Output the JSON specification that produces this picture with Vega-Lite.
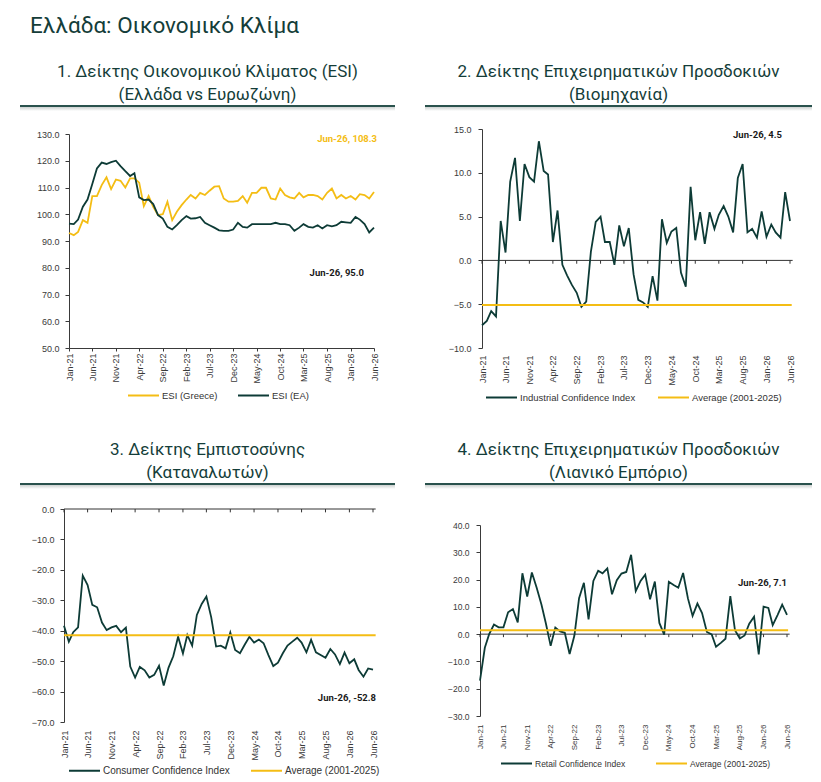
{
  "$schema": "https://vega.github.io/schema/vega-lite/v6.json",
  "background": "white",
  "padding": {"left": 20, "top": 14, "right": 0, "bottom": 0},
  "title": {"text": "Ελλάδα: Οικονομικό Κλίμα", "anchor": "start", "dx": 10, "fontSize": 22.5, "font": "Roboto", "fontWeight": "normal", "color": "#143d39", "offset": 26},
  "datasets": {
    "m": [
      {"d":"2021-01","gr":93.0,"ea":96.5,"ind":-7.4,"con":-38.4,"ret":-17.0},
      {"d":"2021-02","gr":92.2,"ea":96.3,"ind":-6.9,"con":-43.6,"ret":-5.0},
      {"d":"2021-03","gr":93.4,"ea":98.0,"ind":-5.8,"con":-40.5,"ret":0.0},
      {"d":"2021-04","gr":97.8,"ea":102.8,"ind":-6.4,"con":-38.9,"ret":3.5},
      {"d":"2021-05","gr":96.8,"ea":105.5,"ind":4.5,"con":-21.9,"ret":2.5},
      {"d":"2021-06","gr":106.8,"ea":111.3,"ind":0.9,"con":-25.0,"ret":2.5},
      {"d":"2021-07","gr":106.8,"ea":117.1,"ind":9.0,"con":-31.5,"ret":8.0},
      {"d":"2021-08","gr":110.9,"ea":119.3,"ind":11.7,"con":-32.3,"ret":9.2},
      {"d":"2021-09","gr":113.8,"ea":118.8,"ind":4.5,"con":-37.3,"ret":4.3},
      {"d":"2021-10","gr":109.4,"ea":119.5,"ind":11.0,"con":-39.8,"ret":22.3},
      {"d":"2021-11","gr":113.0,"ea":120.0,"ind":9.5,"con":-38.9,"ret":13.8},
      {"d":"2021-12","gr":112.5,"ea":118.0,"ind":9.0,"con":-38.4,"ret":22.6},
      {"d":"2022-01","gr":110.0,"ea":116.1,"ind":13.6,"con":-40.5,"ret":17.0},
      {"d":"2022-02","gr":113.4,"ea":114.3,"ind":10.2,"con":-39.0,"ret":10.8},
      {"d":"2022-03","gr":113.4,"ea":115.3,"ind":9.8,"con":-51.8,"ret":4.0},
      {"d":"2022-04","gr":111.8,"ea":106.3,"ind":2.1,"con":-55.4,"ret":-4.3},
      {"d":"2022-05","gr":103.0,"ea":105.3,"ind":5.7,"con":-51.9,"ret":2.4},
      {"d":"2022-06","gr":106.8,"ea":105.5,"ind":-0.5,"con":-53.0,"ret":1.0},
      {"d":"2022-07","gr":102.8,"ea":103.8,"ind":-1.7,"con":-55.4,"ret":0.5},
      {"d":"2022-08","gr":99.7,"ea":99.7,"ind":-2.8,"con":-54.5,"ret":-7.3},
      {"d":"2022-09","gr":100.0,"ea":98.4,"ind":-3.7,"con":-51.5,"ret":-0.5},
      {"d":"2022-10","gr":104.7,"ea":95.3,"ind":-5.3,"con":-58.0,"ret":13.2},
      {"d":"2022-11","gr":97.8,"ea":94.3,"ind":-4.7,"con":-52.1,"ret":18.8},
      {"d":"2022-12","gr":100.9,"ea":95.9,"ind":1.0,"con":-48.4,"ret":5.4},
      {"d":"2023-01","gr":103.4,"ea":97.8,"ind":4.4,"con":-42.0,"ret":19.5},
      {"d":"2023-02","gr":105.5,"ea":99.3,"ind":5.0,"con":-47.5,"ret":23.2},
      {"d":"2023-03","gr":107.2,"ea":98.4,"ind":2.1,"con":-41.4,"ret":22.3},
      {"d":"2023-04","gr":105.9,"ea":98.5,"ind":2.1,"con":-44.9,"ret":24.1},
      {"d":"2023-05","gr":108.0,"ea":99.0,"ind":-0.5,"con":-34.8,"ret":14.6},
      {"d":"2023-06","gr":107.2,"ea":96.8,"ind":4.0,"con":-31.2,"ret":19.8},
      {"d":"2023-07","gr":108.8,"ea":95.9,"ind":1.6,"con":-28.8,"ret":22.2},
      {"d":"2023-08","gr":110.3,"ea":95.0,"ind":3.7,"con":-35.6,"ret":22.8},
      {"d":"2023-09","gr":110.5,"ea":94.0,"ind":-1.6,"con":-45.2,"ret":29.1},
      {"d":"2023-10","gr":105.9,"ea":93.8,"ind":-4.5,"con":-44.9,"ret":15.8},
      {"d":"2023-11","gr":104.7,"ea":93.8,"ind":-4.8,"con":-45.8,"ret":19.5},
      {"d":"2023-12","gr":104.7,"ea":94.3,"ind":-5.3,"con":-40.6,"ret":21.8},
      {"d":"2024-01","gr":105.0,"ea":96.8,"ind":-1.8,"con":-46.3,"ret":12.8},
      {"d":"2024-02","gr":106.8,"ea":95.3,"ind":-4.6,"con":-47.4,"ret":19.3},
      {"d":"2024-03","gr":104.3,"ea":95.0,"ind":4.7,"con":-44.7,"ret":4.1},
      {"d":"2024-04","gr":108.0,"ea":96.3,"ind":2.0,"con":-42.0,"ret":-0.2},
      {"d":"2024-05","gr":108.0,"ea":96.3,"ind":3.3,"con":-43.9,"ret":19.2},
      {"d":"2024-06","gr":109.9,"ea":96.3,"ind":3.7,"con":-42.9,"ret":18.0},
      {"d":"2024-07","gr":109.9,"ea":96.3,"ind":-1.4,"con":-44.1,"ret":17.0},
      {"d":"2024-08","gr":105.9,"ea":96.3,"ind":-3.0,"con":-48.0,"ret":22.4},
      {"d":"2024-09","gr":105.5,"ea":96.8,"ind":8.4,"con":-51.6,"ret":13.1},
      {"d":"2024-10","gr":109.6,"ea":96.3,"ind":2.3,"con":-50.5,"ret":6.7},
      {"d":"2024-11","gr":107.2,"ea":96.3,"ind":5.5,"con":-47.4,"ret":11.2},
      {"d":"2024-12","gr":106.3,"ea":95.9,"ind":1.9,"con":-44.9,"ret":7.7},
      {"d":"2025-01","gr":105.9,"ea":93.8,"ind":5.5,"con":-43.6,"ret":0.8},
      {"d":"2025-02","gr":108.0,"ea":95.0,"ind":3.6,"con":-42.3,"ret":-0.1},
      {"d":"2025-03","gr":106.3,"ea":96.3,"ind":5.2,"con":-43.9,"ret":-4.6},
      {"d":"2025-04","gr":107.2,"ea":95.3,"ind":6.2,"con":-47.1,"ret":-3.2},
      {"d":"2025-05","gr":107.2,"ea":95.0,"ind":5.0,"con":-43.0,"ret":-1.7},
      {"d":"2025-06","gr":106.8,"ea":95.9,"ind":3.2,"con":-47.1,"ret":13.9},
      {"d":"2025-07","gr":105.5,"ea":94.7,"ind":9.4,"con":-48.0,"ret":1.4},
      {"d":"2025-08","gr":108.0,"ea":95.9,"ind":11.0,"con":-48.9,"ret":-1.6},
      {"d":"2025-09","gr":109.6,"ea":95.5,"ind":3.2,"con":-46.0,"ret":-0.5},
      {"d":"2025-10","gr":105.9,"ea":95.9,"ind":3.6,"con":-47.8,"ret":3.8},
      {"d":"2025-11","gr":107.2,"ea":97.2,"ind":2.6,"con":-51.0,"ret":6.4},
      {"d":"2025-12","gr":105.9,"ea":97.0,"ind":5.6,"con":-47.2,"ret":-7.4},
      {"d":"2026-01","gr":106.8,"ea":96.8,"ind":2.7,"con":-50.7,"ret":10.1},
      {"d":"2026-02","gr":105.5,"ea":99.0,"ind":4.1,"con":-49.4,"ret":9.6},
      {"d":"2026-03","gr":107.5,"ea":98.0,"ind":3.2,"con":-52.9,"ret":3.3},
      {"d":"2026-04","gr":107.2,"ea":96.3,"ind":2.6,"con":-55.1,"ret":7.0},
      {"d":"2026-05","gr":105.9,"ea":93.2,"ind":7.8,"con":-52.4,"ret":10.8},
      {"d":"2026-06","gr":108.3,"ea":95.0,"ind":4.5,"con":-52.8,"ret":7.1}
    ],
    "ticks": [
      {"d":"2021-01"},{"d":"2021-06"},{"d":"2021-11"},{"d":"2022-04"},{"d":"2022-09"},{"d":"2023-02"},{"d":"2023-07"},
      {"d":"2023-12"},{"d":"2024-05"},{"d":"2024-10"},{"d":"2025-03"},{"d":"2025-08"},{"d":"2026-01"},{"d":"2026-06"}
    ]
  },
  "spacing": 39,
  "resolve": {"scale": {"color": "independent"}, "legend": {"color": "independent"}},
  "vconcat": [
    {
      "spacing": 30,
      "resolve": {"scale": {"color": "independent"}, "legend": {"color": "independent"}},
      "hconcat": [
        {
          "spacing": 19,
          "resolve": {"scale": {"color": "independent"}, "legend": {"color": "independent"}},
          "vconcat": [
            {
              "width": 375, "height": 6,
              "title": {"text": ["1. Δείκτης Οικονομικού Κλίματος (ESI)", "(Ελλάδα vs Ευρωζώνη)"], "anchor": "middle", "frame": "group", "fontSize": 17, "lineHeight": 23, "font": "Roboto", "fontWeight": "normal", "color": "#143d39", "offset": 1},
              "view": {"stroke": null, "fill": {"gradient": "linear", "x1": 0, "y1": 0, "x2": 0, "y2": 1, "stops": [{"offset": 0, "color": "#2a524d"}, {"offset": 0.33, "color": "#2a524d"}, {"offset": 0.36, "color": "#cfd3d2"}, {"offset": 1, "color": "#ffffff"}]}},
              "data": {"values": []},
              "mark": "text",
              "encoding": {}
            },
            {
              "width": 375, "height": 214,
              "data": {"name": "m"},
              "layer": [
                {
                  "mark": {"type": "line", "strokeWidth": 1.8},
                  "encoding": {
                    "x": {"field": "d", "type": "temporal",
                      "scale": {"domain": [{"year": 2021, "month": 1, "date": 1}, {"year": 2026, "month": 6, "date": 1}], "range": [49, 354]},
                      "axis": {"values": [{"year":2021,"month":1,"date":1},{"year":2021,"month":6,"date":1},{"year":2021,"month":11,"date":1},{"year":2022,"month":4,"date":1},{"year":2022,"month":9,"date":1},{"year":2023,"month":2,"date":1},{"year":2023,"month":7,"date":1},{"year":2023,"month":12,"date":1},{"year":2024,"month":5,"date":1},{"year":2024,"month":10,"date":1},{"year":2025,"month":3,"date":1},{"year":2025,"month":8,"date":1},{"year":2026,"month":1,"date":1},{"year":2026,"month":6,"date":1}],
                        "tickCount": 100, "labelOverlap": false, "format": "%b-%y", "labelAngle": -90, "tickSize": 3, "labelPadding": 2}},
                    "y": {"field": "gr", "type": "quantitative", "scale": {"domain": [50, 130], "nice": false, "zero": false},
                      "axis": {"values": [50, 60, 70, 80, 90, 100, 110, 120, 130], "tickCount": 100, "labelOverlap": false, "format": ".1f", "offset": -49, "labelPadding": 6}},
                    "color": {"datum": "ESI (Greece)", "scale": {"domain": ["ESI (Greece)", "ESI (EA)"], "range": ["#f4bd14", "#0d3b36"]},
                      "legend": {"title": null, "orient": "none", "legendX": 107, "legendY": 245, "columnPadding": 16}}
                  }
                },
                {
                  "mark": {"type": "line", "strokeWidth": 1.8},
                  "encoding": {
                    "x": {"field": "d", "type": "temporal"},
                    "y": {"field": "ea", "type": "quantitative"},
                    "color": {"datum": "ESI (EA)"}
                  }
                },
                {
                  "data": {"values": [{"label": "Jun-26, 108.3"}]},
                  "mark": {"type": "text", "align": "right", "baseline": "middle", "font": "Roboto", "fontWeight": "bold", "fontSize": 9.5, "color": "#f4bd14", "dx": 3},
                  "encoding": {"x": {"datum": {"year": 2026, "month": 6, "date": 1}, "type": "temporal"}, "y": {"datum": 128}, "text": {"field": "label"}}
                },
                {
                  "data": {"values": [{"label": "Jun-26, 95.0"}]},
                  "mark": {"type": "text", "align": "right", "baseline": "middle", "font": "Roboto", "fontWeight": "bold", "fontSize": 9.5, "color": "#1a1a1a", "dx": -10},
                  "encoding": {"x": {"datum": {"year": 2026, "month": 6, "date": 1}, "type": "temporal"}, "y": {"datum": 78}, "text": {"field": "label"}}
                }
              ]
            }
          ]
        },
        {
          "spacing": 14,
          "resolve": {"scale": {"color": "independent"}, "legend": {"color": "independent"}},
          "vconcat": [
            {
              "width": 387, "height": 6,
              "title": {"text": ["2. Δείκτης Επιχειρηματικών Προσδοκιών", "(Βιομηχανία)"], "anchor": "middle", "frame": "group", "fontSize": 17, "lineHeight": 23, "font": "Roboto", "fontWeight": "normal", "color": "#143d39", "offset": 1},
              "view": {"stroke": null, "fill": {"gradient": "linear", "x1": 0, "y1": 0, "x2": 0, "y2": 1, "stops": [{"offset": 0, "color": "#2a524d"}, {"offset": 0.33, "color": "#2a524d"}, {"offset": 0.36, "color": "#cfd3d2"}, {"offset": 1, "color": "#ffffff"}]}},
              "data": {"values": []},
              "mark": "text",
              "encoding": {}
            },
            {
              "width": 387, "height": 219,
              "layer": [
                {
                  "data": {"values": [{}]},
                  "mark": {"type": "rule", "color": "#333333", "strokeWidth": 1},
                  "encoding": {"x": {"datum": {"year": 2021, "month": 1, "date": 1}, "type": "temporal"}, "x2": {"datum": {"year": 2026, "month": 6, "date": 18}}, "y": {"datum": 0}}
                },
                {
                  "data": {"name": "ticks"},
                  "mark": {"type": "rule", "color": "#333333", "strokeWidth": 1},
                  "encoding": {"x": {"field": "d", "type": "temporal"}, "y": {"datum": 0}, "y2": {"datum": -0.38}}
                },
                {
                  "data": {"name": "m"},
                  "mark": {"type": "line", "strokeWidth": 1.8},
                  "encoding": {
                    "x": {"field": "d", "type": "temporal",
                      "scale": {"domain": [{"year": 2021, "month": 1, "date": 1}, {"year": 2026, "month": 6, "date": 1}], "range": [57, 365]},
                      "axis": {"values": [{"year":2021,"month":1,"date":1},{"year":2021,"month":6,"date":1},{"year":2021,"month":11,"date":1},{"year":2022,"month":4,"date":1},{"year":2022,"month":9,"date":1},{"year":2023,"month":2,"date":1},{"year":2023,"month":7,"date":1},{"year":2023,"month":12,"date":1},{"year":2024,"month":5,"date":1},{"year":2024,"month":10,"date":1},{"year":2025,"month":3,"date":1},{"year":2025,"month":8,"date":1},{"year":2026,"month":1,"date":1},{"year":2026,"month":6,"date":1}],
                        "tickCount": 100, "labelOverlap": false, "format": "%b-%y", "labelAngle": -90, "domain": false, "ticks": false, "labelPadding": 7}},
                    "y": {"field": "ind", "type": "quantitative", "scale": {"domain": [-10, 15], "nice": false, "zero": false},
                      "axis": {"values": [-10, -5, 0, 5, 10, 15], "tickCount": 100, "labelOverlap": false, "format": ".1f", "offset": -57, "labelPadding": 7}},
                    "color": {"datum": "Industrial Confidence Index", "scale": {"domain": ["Industrial Confidence Index", "Average (2001-2025)"], "range": ["#0d3b36", "#f4bd14"]},
                      "legend": {"title": null, "orient": "none", "legendX": 60, "legendY": 252, "columnPadding": 18}}
                  }
                },
                {
                  "data": {"values": [{"avg": -5.1}]},
                  "mark": {"type": "rule", "strokeWidth": 2},
                  "encoding": {"x": {"datum": {"year": 2021, "month": 1, "date": 1}, "type": "temporal"}, "x2": {"datum": {"year": 2026, "month": 6, "date": 12}}, "y": {"field": "avg", "type": "quantitative"}, "color": {"datum": "Average (2001-2025)"}}
                },
                {
                  "data": {"values": [{"label": "Jun-26, 4.5"}]},
                  "mark": {"type": "text", "align": "right", "baseline": "middle", "font": "Roboto", "fontWeight": "bold", "fontSize": 9.5, "color": "#1a1a1a", "dx": -8},
                  "encoding": {"x": {"datum": {"year": 2026, "month": 6, "date": 1}, "type": "temporal"}, "y": {"datum": 14.3}, "text": {"field": "label"}}
                }
              ]
            }
          ]
        }
      ]
    },
    {
      "spacing": 30,
      "resolve": {"scale": {"color": "independent"}, "legend": {"color": "independent"}},
      "hconcat": [
        {
          "spacing": 16,
          "resolve": {"scale": {"color": "independent"}, "legend": {"color": "independent"}},
          "vconcat": [
            {
              "width": 375, "height": 6,
              "title": {"text": ["3. Δείκτης Εμπιστοσύνης", "(Καταναλωτών)"], "anchor": "middle", "frame": "group", "fontSize": 17, "lineHeight": 23, "font": "Roboto", "fontWeight": "normal", "color": "#143d39", "offset": 1},
              "view": {"stroke": null, "fill": {"gradient": "linear", "x1": 0, "y1": 0, "x2": 0, "y2": 1, "stops": [{"offset": 0, "color": "#2a524d"}, {"offset": 0.33, "color": "#2a524d"}, {"offset": 0.36, "color": "#cfd3d2"}, {"offset": 1, "color": "#ffffff"}]}},
              "data": {"values": []},
              "mark": "text",
              "encoding": {}
            },
            {
              "width": 375, "height": 213,
              "layer": [
                {
                  "data": {"values": [{}]},
                  "mark": {"type": "rule", "color": "#333333", "strokeWidth": 1},
                  "encoding": {"x": {"datum": {"year": 2021, "month": 1, "date": 1}, "type": "temporal"}, "x2": {"datum": {"year": 2026, "month": 6, "date": 18}}, "y": {"datum": 0}}
                },
                {
                  "data": {"name": "ticks"},
                  "mark": {"type": "rule", "color": "#333333", "strokeWidth": 1},
                  "encoding": {"x": {"field": "d", "type": "temporal"}, "y": {"datum": 0}, "y2": {"datum": -1.1}}
                },
                {
                  "data": {"name": "m"},
                  "mark": {"type": "line", "strokeWidth": 1.8},
                  "encoding": {
                    "x": {"field": "d", "type": "temporal",
                      "scale": {"domain": [{"year": 2021, "month": 1, "date": 1}, {"year": 2026, "month": 6, "date": 1}], "range": [44, 353]},
                      "axis": {"values": [{"year":2021,"month":1,"date":1},{"year":2021,"month":6,"date":1},{"year":2021,"month":11,"date":1},{"year":2022,"month":4,"date":1},{"year":2022,"month":9,"date":1},{"year":2023,"month":2,"date":1},{"year":2023,"month":7,"date":1},{"year":2023,"month":12,"date":1},{"year":2024,"month":5,"date":1},{"year":2024,"month":10,"date":1},{"year":2025,"month":3,"date":1},{"year":2025,"month":8,"date":1},{"year":2026,"month":1,"date":1},{"year":2026,"month":6,"date":1}],
                        "tickCount": 100, "labelOverlap": false, "format": "%b-%y", "labelAngle": -90, "domain": false, "ticks": false, "labelPadding": 8}},
                    "y": {"field": "con", "type": "quantitative", "scale": {"domain": [-70, 0], "nice": false, "zero": false},
                      "axis": {"values": [-70, -60, -50, -40, -30, -20, -10, 0], "tickCount": 100, "labelOverlap": false, "format": ".1f", "offset": -44, "labelPadding": 6}},
                    "color": {"datum": "Consumer Confidence Index", "scale": {"domain": ["Consumer Confidence Index", "Average (2001-2025)"], "range": ["#0d3b36", "#f4bd14"]},
                      "legend": {"title": null, "orient": "none", "legendX": 48, "legendY": 245, "columnPadding": 17, "labelFontSize": 10}}
                  }
                },
                {
                  "data": {"values": [{"avg": -41.5}]},
                  "mark": {"type": "rule", "strokeWidth": 2},
                  "encoding": {"x": {"datum": {"year": 2021, "month": 1, "date": 1}, "type": "temporal"}, "x2": {"datum": {"year": 2026, "month": 6, "date": 18}}, "y": {"field": "avg", "type": "quantitative"}, "color": {"datum": "Average (2001-2025)"}}
                },
                {
                  "data": {"values": [{"label": "Jun-26, -52.8"}]},
                  "mark": {"type": "text", "align": "right", "baseline": "middle", "font": "Roboto", "fontWeight": "bold", "fontSize": 9.5, "color": "#1a1a1a", "dx": 3},
                  "encoding": {"x": {"datum": {"year": 2026, "month": 6, "date": 1}, "type": "temporal"}, "y": {"datum": -62.2}, "text": {"field": "label"}}
                }
              ]
            }
          ]
        },
        {
          "spacing": 32,
          "resolve": {"scale": {"color": "independent"}, "legend": {"color": "independent"}},
          "vconcat": [
            {
              "width": 387, "height": 6,
              "title": {"text": ["4. Δείκτης Επιχειρηματικών Προσδοκιών", "(Λιανικό Εμπόριο)"], "anchor": "middle", "frame": "group", "fontSize": 17, "lineHeight": 23, "font": "Roboto", "fontWeight": "normal", "color": "#143d39", "offset": 1},
              "view": {"stroke": null, "fill": {"gradient": "linear", "x1": 0, "y1": 0, "x2": 0, "y2": 1, "stops": [{"offset": 0, "color": "#2a524d"}, {"offset": 0.33, "color": "#2a524d"}, {"offset": 0.36, "color": "#cfd3d2"}, {"offset": 1, "color": "#ffffff"}]}},
              "data": {"values": []},
              "mark": "text",
              "encoding": {}
            },
            {
              "width": 387, "height": 191,
              "layer": [
                {
                  "data": {"values": [{}]},
                  "mark": {"type": "rule", "color": "#333333", "strokeWidth": 1},
                  "encoding": {"x": {"datum": {"year": 2021, "month": 1, "date": 1}, "type": "temporal"}, "x2": {"datum": {"year": 2026, "month": 6, "date": 18}}, "y": {"datum": 0}}
                },
                {
                  "data": {"name": "ticks"},
                  "mark": {"type": "rule", "color": "#333333", "strokeWidth": 1},
                  "encoding": {"x": {"field": "d", "type": "temporal"}, "y": {"datum": 0}, "y2": {"datum": -1.1}}
                },
                {
                  "data": {"name": "m"},
                  "mark": {"type": "line", "strokeWidth": 1.8},
                  "encoding": {
                    "x": {"field": "d", "type": "temporal",
                      "scale": {"domain": [{"year": 2021, "month": 1, "date": 1}, {"year": 2026, "month": 6, "date": 1}], "range": [55, 362]},
                      "axis": {"values": [{"year":2021,"month":1,"date":1},{"year":2021,"month":6,"date":1},{"year":2021,"month":11,"date":1},{"year":2022,"month":4,"date":1},{"year":2022,"month":9,"date":1},{"year":2023,"month":2,"date":1},{"year":2023,"month":7,"date":1},{"year":2023,"month":12,"date":1},{"year":2024,"month":5,"date":1},{"year":2024,"month":10,"date":1},{"year":2025,"month":3,"date":1},{"year":2025,"month":8,"date":1},{"year":2026,"month":1,"date":1},{"year":2026,"month":6,"date":1}],
                        "tickCount": 100, "labelOverlap": false, "format": "%b-%y", "labelAngle": -90, "domain": false, "ticks": false, "labelPadding": 8, "labelFontSize": 8}},
                    "y": {"field": "ret", "type": "quantitative", "scale": {"domain": [-30, 40], "nice": false, "zero": false},
                      "axis": {"values": [-30, -20, -10, 0, 10, 20, 30, 40], "tickCount": 100, "labelOverlap": false, "format": ".1f", "offset": -55, "labelPadding": 7, "labelFontSize": 8.5}},
                    "color": {"datum": "Retail Confidence Index", "scale": {"domain": ["Retail Confidence Index", "Average (2001-2025)"], "range": ["#0d3b36", "#f4bd14"]},
                      "legend": {"title": null, "orient": "none", "legendX": 75, "legendY": 222, "columnPadding": 26, "labelFontSize": 8.5}}
                  }
                },
                {
                  "data": {"values": [{"avg": 1.4}]},
                  "mark": {"type": "rule", "strokeWidth": 2},
                  "encoding": {"x": {"datum": {"year": 2021, "month": 1, "date": 1}, "type": "temporal"}, "x2": {"datum": {"year": 2026, "month": 6, "date": 8}}, "y": {"field": "avg", "type": "quantitative"}, "color": {"datum": "Average (2001-2025)"}}
                },
                {
                  "data": {"values": [{"label": "Jun-26, 7.1"}]},
                  "mark": {"type": "text", "align": "right", "baseline": "middle", "font": "Roboto", "fontWeight": "bold", "fontSize": 9.5, "color": "#1a1a1a", "dx": 0},
                  "encoding": {"x": {"datum": {"year": 2026, "month": 6, "date": 1}, "type": "temporal"}, "y": {"datum": 18.7}, "text": {"field": "label"}}
                }
              ]
            }
          ]
        }
      ]
    }
  ],
  "config": {
    "view": {"stroke": null},
    "font": "Liberation Sans",
    "axis": {"labelFont": "Liberation Sans", "labelFontSize": 9, "labelColor": "#3a3a3a", "domainColor": "#3a3a3a", "tickColor": "#3a3a3a", "grid": false, "tickSize": 4, "title": null, "labelOverlap": false, "labelFlush": false},
    "legend": {"direction": "horizontal", "symbolType": "stroke", "symbolSize": 961, "symbolStrokeWidth": 2, "labelFont": "Liberation Sans", "labelFontSize": 9.5, "labelColor": "#333333", "labelOffset": 2, "padding": 0}
  }
}
